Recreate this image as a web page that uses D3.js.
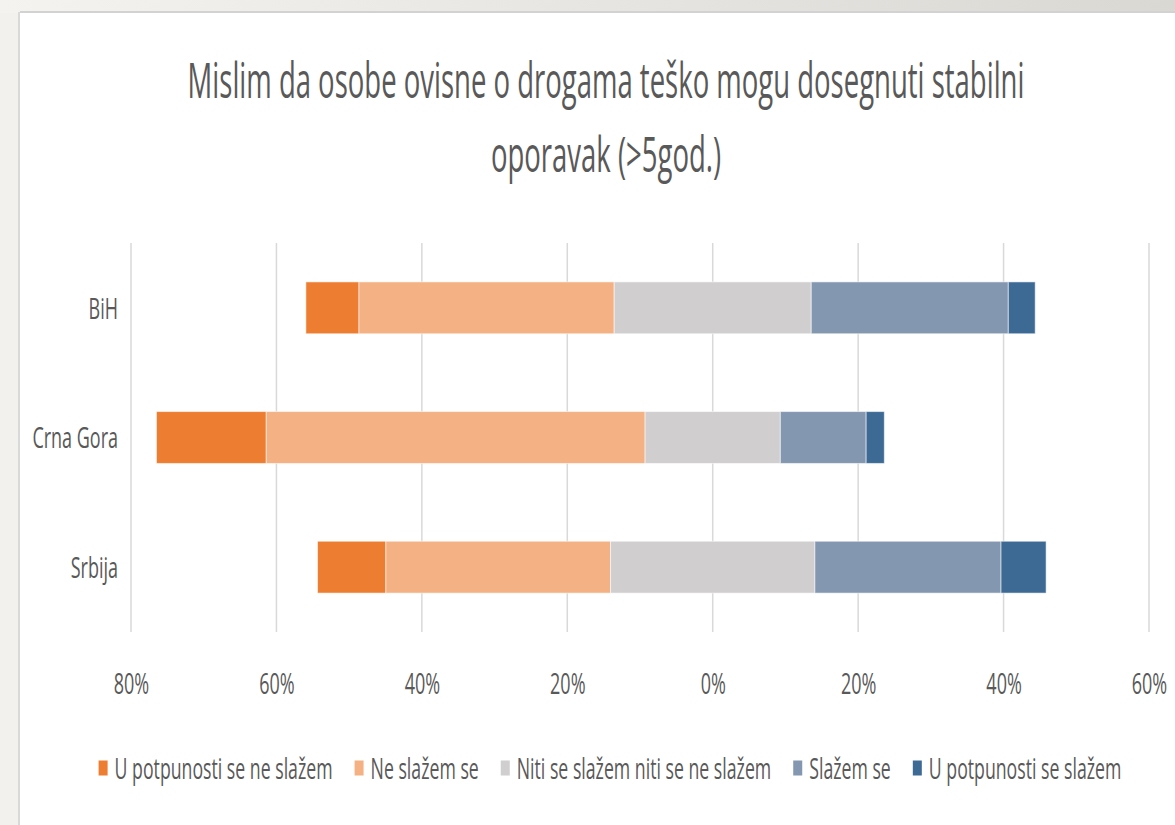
<!DOCTYPE html>
<html>
<head>
<meta charset="utf-8">
<script src="https://cdn.jsdelivr.net/npm/d3@7"></script>
<style>
  html, body { margin: 0; padding: 0; background: #fff; }
  svg { display: block; }
  text { font-family: "Open Sans", "DejaVu Sans", sans-serif; fill: #595959; }
</style>
</head>
<body>
<svg id="chart" width="1175" height="825"></svg>
<script>
// ---------------- DATA ----------------
const categories = ["BiH", "Crna Gora", "Srbija"];
const seriesNames = [
  "U potpunosti se ne slažem",
  "Ne slažem se",
  "Niti se slažem niti se ne slažem",
  "Slažem se",
  "U potpunosti se slažem"
];
// percentages per category (BiH, Crna Gora, Srbija)
const uPotpunostiSeNeSlazem = [7.3, 15.1, 9.4];
const neSlazemSe            = [35.1, 52.1, 30.9];
const nitiNiti              = [27.1, 18.6, 28.1];
const slazemSe              = [27.1, 11.8, 25.6];
const uPotpunostiSeSlazem   = [3.7, 2.5, 6.2];
const tickValues = [-80, -60, -40, -20, 0, 20, 40, 60];
const tickLabels = ["80%", "60%", "40%", "20%", "0%", "20%", "40%", "60%"];
const titleLines = ["Mislim da osobe ovisne o drogama teško mogu dosegnuti stabilni", "oporavak (>5god.)"];

const seriesValues = [uPotpunostiSeNeSlazem, neSlazemSe, nitiNiti, slazemSe, uPotpunostiSeSlazem];
const colors = ["#ED7D31", "#F4B183", "#D0CECE", "#8497B0", "#3D6A95"];

// ---------------- LAYOUT ----------------
const svg = d3.select("#chart");
const W = 1175, H = 825;

// frame
const defs = svg.append("defs");
const grad = defs.append("linearGradient").attr("id", "topg").attr("x1", 0).attr("x2", 1);
grad.append("stop").attr("offset", 0).attr("stop-color", "#f4f3f0");
grad.append("stop").attr("offset", 1).attr("stop-color", "#dad8d3");
svg.append("rect").attr("width", W).attr("height", H).attr("fill", "#f2f1ee");
svg.append("rect").attr("x", 0).attr("y", 0).attr("width", W).attr("height", 13).attr("fill", "url(#topg)");
svg.append("rect").attr("x", 20).attr("y", 13).attr("width", W - 20).attr("height", H - 13).attr("fill", "#fff");
svg.append("line").attr("x1", 20).attr("x2", W).attr("y1", 12).attr("y2", 12).attr("stroke", "#d2d2d2").attr("stroke-width", 2);
svg.append("line").attr("x1", 19).attr("x2", 19).attr("y1", 12).attr("y2", H).attr("stroke", "#d9d9d9").attr("stroke-width", 2);

const x = d3.scaleLinear().domain([-80, 60]).range([131, 1149]);
const y = d3.scaleBand().domain(categories).range([243, 632]).paddingInner(0.6).paddingOuter(0.3);

const SQ = 0.6;   // horizontal condensing factor of the lettering
const SQT = 0.55; // title condensing
const SQL = 0.59; // legend condensing

// condense text horizontally with a scale transform (keeps bounding boxes honest)
function squeeze(sel, f) {
  sel.each(function () {
    const t = d3.select(this);
    const tx = +t.attr("x") || 0, ty = +t.attr("y") || 0;
    t.attr("x", 0).attr("y", 0).attr("transform", `translate(${tx},${ty}) scale(${f},1)`);
  });
}

// title
svg.append("g").selectAll("text").data(titleLines).join("text")
  .attr("x", 606)
  .attr("y", (d, i) => 98 + i * 74)
  .attr("text-anchor", "middle")
  .attr("font-size", 50)
  .text(d => d)
  .call(squeeze, SQT);

// gridlines
svg.append("g").selectAll("line").data(tickValues).join("line")
  .attr("x1", d => x(d)).attr("x2", d => x(d))
  .attr("y1", 243).attr("y2", 632)
  .attr("stroke", "#d9d9d9").attr("stroke-width", 1.5);

// stacked bars
const rows = categories.map((c, ci) => {
  const vals = seriesValues.map(s => s[ci]);
  let start = -(vals[0] + vals[1] + vals[2] / 2);
  return vals.map((v, si) => {
    const seg = { cat: c, series: si, x0: start, x1: start + v };
    start += v;
    return seg;
  });
}).flat();

svg.append("g").selectAll("rect").data(rows).join("rect")
  .attr("x", d => x(d.x0))
  .attr("width", d => x(d.x1) - x(d.x0))
  .attr("y", d => y(d.cat))
  .attr("height", y.bandwidth())
  .attr("fill", d => colors[d.series])
  .attr("stroke", "rgba(255,255,255,0.55)")
  .attr("stroke-width", 1);

// x axis (labels only)
const xAxis = d3.axisBottom(x).tickValues(tickValues).tickSize(0).tickPadding(0)
  .tickFormat((d, i) => tickLabels[i]);
const gx = svg.append("g").attr("transform", "translate(0,672)").call(xAxis);
gx.select(".domain").remove();
gx.selectAll("text")
  .attr("font-size", 30)
  .attr("dy", "0.72em")
  .style("font-family", "'Open Sans', sans-serif")
  .attr("fill", "#595959")
  .call(squeeze, SQ);

// y axis (labels only)
const yAxis = d3.axisLeft(y).tickSize(0).tickPadding(0);
const gy = svg.append("g").attr("transform", "translate(118,0)").call(yAxis);
gy.select(".domain").remove();
gy.selectAll("text")
  .attr("font-size", 30)
  .attr("dy", "0.36em")
  .style("font-family", "'Open Sans', sans-serif")
  .attr("fill", "#595959")
  .call(squeeze, SQ);

// legend
const legend = svg.append("g");
const items = legend.selectAll("g").data(seriesNames).join("g");
items.append("rect")
  .attr("width", 9).attr("height", 15)
  .attr("y", -7.5)
  .attr("fill", (d, i) => colors[i]);
items.append("text")
  .attr("x", 16)
  .attr("dy", "0.36em")
  .attr("font-size", 30)
  .text(d => d)
  .call(squeeze, SQL);
const widths = [];
items.each(function () {
  const t = d3.select(this).select("text").node();
  widths.push(16 + t.getComputedTextLength() * SQL);
});
const gap = 22;
const total = d3.sum(widths) + gap * (widths.length - 1);
let cursor = 610 - total / 2;
items.attr("transform", (d, i) => {
  const tx = cursor;
  cursor += widths[i] + gap;
  return `translate(${tx},768)`;
});
</script>
</body>
</html>
